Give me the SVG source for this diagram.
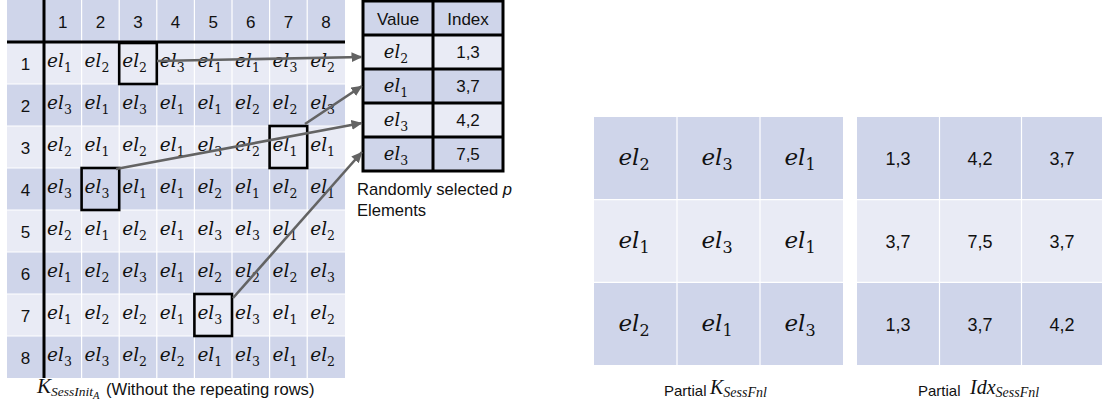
<svg xmlns="http://www.w3.org/2000/svg" width="1102" height="407" viewBox="0 0 1102 407">
  <defs>
    <style>
      .dark { fill: #cfd5ea; }
      .light { fill: #e9ebf5; }
      .grid { stroke: #ffffff; stroke-width: 1.2; fill: none; }
      .rule { stroke: #000000; stroke-width: 3; fill: none; }
      .pick { stroke: #000000; stroke-width: 2.6; fill: none; }
      .lbl { font-family: "Liberation Sans", Arial, sans-serif; fill: #111111; }
      .hd { font-size: 17px; text-anchor: middle; }
      .cap { font-size: 16.6px; }
      .cap2 { font-size: 15px; }
      .mi { font-family: "DejaVu Serif", "Liberation Serif", serif; font-style: italic; fill: #111111; }
      .mc { font-family: "Liberation Serif", "DejaVu Serif", serif; font-style: italic; fill: #111111; }
      .sub { font-family: "DejaVu Serif", "Liberation Serif", serif; font-style: normal; }
      .el { font-size: 18.5px; }
      .el .sub { font-size: 12.5px; }
      .elm { font-size: 18px; text-anchor: middle; }
      .elm .sub { font-size: 12.5px; }
      .elb { font-size: 23px; text-anchor: middle; }
      .elb .sub { font-size: 16px; }
      .num { font-size: 18px; text-anchor: middle; }
      .conn { stroke: #636363; stroke-width: 2.6; fill: none; marker-end: url(#head); }
    </style>
    <marker id="head" markerUnits="userSpaceOnUse" markerWidth="11" markerHeight="10" viewBox="0 0 11 10" refX="10.5" refY="5" orient="auto">
      <path d="M0,0 L11,5 L0,10 Z" fill="#636363"/>
    </marker>
  </defs>

  <!-- Session init key table, 8 x 8 -->
  <g id="k-sess-init">
    <rect class="dark" x="7" y="0" width="338" height="42"/>
    <rect class="light" x="7" y="42" width="338" height="42"/>
    <rect class="dark" x="7" y="84" width="338" height="42"/>
    <rect class="light" x="7" y="126" width="338" height="42"/>
    <rect class="dark" x="7" y="168" width="338" height="42"/>
    <rect class="light" x="7" y="210" width="338" height="42"/>
    <rect class="dark" x="7" y="252" width="338" height="42"/>
    <rect class="light" x="7" y="294" width="338" height="42"/>
    <rect class="dark" x="7" y="336" width="338" height="42"/>
    <path class="grid" d="M81.6,0V378 M119.2,0V378 M156.8,0V378 M194.4,0V378 M232,0V378 M269.6,0V378 M307.2,0V378 M7,84H345 M7,126H345 M7,168H345 M7,210H345 M7,252H345 M7,294H345 M7,336H345"/>
    <path class="rule" d="M44,0V378 M7,42H345"/>

    <g class="lbl hd">
      <text x="62.8" y="28">1</text><text x="100.4" y="28">2</text><text x="138" y="28">3</text><text x="175.6" y="28">4</text>
      <text x="213.2" y="28">5</text><text x="250.8" y="28">6</text><text x="288.4" y="28">7</text><text x="326" y="28">8</text>
      <text x="25.5" y="70">1</text><text x="25.5" y="112">2</text><text x="25.5" y="154">3</text><text x="25.5" y="196">4</text>
      <text x="25.5" y="238">5</text><text x="25.5" y="280">6</text><text x="25.5" y="322">7</text><text x="25.5" y="364">8</text>
    </g>

    <g class="mi el">
      <!-- row 1 -->
      <text x="47" y="67">el<tspan class="sub" dy="5">1</tspan></text>
      <text x="84.6" y="67">el<tspan class="sub" dy="5">2</tspan></text>
      <text x="122.2" y="67">el<tspan class="sub" dy="5">2</tspan></text>
      <text x="159.8" y="67">el<tspan class="sub" dy="5">3</tspan></text>
      <text x="197.4" y="67">el<tspan class="sub" dy="5">1</tspan></text>
      <text x="235" y="67">el<tspan class="sub" dy="5">1</tspan></text>
      <text x="272.6" y="67">el<tspan class="sub" dy="5">3</tspan></text>
      <text x="310.2" y="67">el<tspan class="sub" dy="5">2</tspan></text>
      <!-- row 2 -->
      <text x="47" y="109">el<tspan class="sub" dy="5">3</tspan></text>
      <text x="84.6" y="109">el<tspan class="sub" dy="5">1</tspan></text>
      <text x="122.2" y="109">el<tspan class="sub" dy="5">3</tspan></text>
      <text x="159.8" y="109">el<tspan class="sub" dy="5">1</tspan></text>
      <text x="197.4" y="109">el<tspan class="sub" dy="5">1</tspan></text>
      <text x="235" y="109">el<tspan class="sub" dy="5">2</tspan></text>
      <text x="272.6" y="109">el<tspan class="sub" dy="5">2</tspan></text>
      <text x="310.2" y="109">el<tspan class="sub" dy="5">3</tspan></text>
      <!-- row 3 -->
      <text x="47" y="151">el<tspan class="sub" dy="5">2</tspan></text>
      <text x="84.6" y="151">el<tspan class="sub" dy="5">1</tspan></text>
      <text x="122.2" y="151">el<tspan class="sub" dy="5">2</tspan></text>
      <text x="159.8" y="151">el<tspan class="sub" dy="5">1</tspan></text>
      <text x="197.4" y="151">el<tspan class="sub" dy="5">3</tspan></text>
      <text x="235" y="151">el<tspan class="sub" dy="5">2</tspan></text>
      <text x="272.6" y="151">el<tspan class="sub" dy="5">1</tspan></text>
      <text x="310.2" y="151">el<tspan class="sub" dy="5">1</tspan></text>
      <!-- row 4 -->
      <text x="47" y="193">el<tspan class="sub" dy="5">3</tspan></text>
      <text x="84.6" y="193">el<tspan class="sub" dy="5">3</tspan></text>
      <text x="122.2" y="193">el<tspan class="sub" dy="5">1</tspan></text>
      <text x="159.8" y="193">el<tspan class="sub" dy="5">1</tspan></text>
      <text x="197.4" y="193">el<tspan class="sub" dy="5">2</tspan></text>
      <text x="235" y="193">el<tspan class="sub" dy="5">1</tspan></text>
      <text x="272.6" y="193">el<tspan class="sub" dy="5">2</tspan></text>
      <text x="310.2" y="193">el<tspan class="sub" dy="5">1</tspan></text>
      <!-- row 5 -->
      <text x="47" y="235">el<tspan class="sub" dy="5">2</tspan></text>
      <text x="84.6" y="235">el<tspan class="sub" dy="5">1</tspan></text>
      <text x="122.2" y="235">el<tspan class="sub" dy="5">2</tspan></text>
      <text x="159.8" y="235">el<tspan class="sub" dy="5">1</tspan></text>
      <text x="197.4" y="235">el<tspan class="sub" dy="5">3</tspan></text>
      <text x="235" y="235">el<tspan class="sub" dy="5">3</tspan></text>
      <text x="272.6" y="235">el<tspan class="sub" dy="5">1</tspan></text>
      <text x="310.2" y="235">el<tspan class="sub" dy="5">2</tspan></text>
      <!-- row 6 -->
      <text x="47" y="277">el<tspan class="sub" dy="5">1</tspan></text>
      <text x="84.6" y="277">el<tspan class="sub" dy="5">2</tspan></text>
      <text x="122.2" y="277">el<tspan class="sub" dy="5">3</tspan></text>
      <text x="159.8" y="277">el<tspan class="sub" dy="5">1</tspan></text>
      <text x="197.4" y="277">el<tspan class="sub" dy="5">2</tspan></text>
      <text x="235" y="277">el<tspan class="sub" dy="5">2</tspan></text>
      <text x="272.6" y="277">el<tspan class="sub" dy="5">2</tspan></text>
      <text x="310.2" y="277">el<tspan class="sub" dy="5">3</tspan></text>
      <!-- row 7 -->
      <text x="47" y="319">el<tspan class="sub" dy="5">1</tspan></text>
      <text x="84.6" y="319">el<tspan class="sub" dy="5">2</tspan></text>
      <text x="122.2" y="319">el<tspan class="sub" dy="5">2</tspan></text>
      <text x="159.8" y="319">el<tspan class="sub" dy="5">1</tspan></text>
      <text x="197.4" y="319">el<tspan class="sub" dy="5">3</tspan></text>
      <text x="235" y="319">el<tspan class="sub" dy="5">3</tspan></text>
      <text x="272.6" y="319">el<tspan class="sub" dy="5">1</tspan></text>
      <text x="310.2" y="319">el<tspan class="sub" dy="5">2</tspan></text>
      <!-- row 8 -->
      <text x="47" y="361">el<tspan class="sub" dy="5">3</tspan></text>
      <text x="84.6" y="361">el<tspan class="sub" dy="5">3</tspan></text>
      <text x="122.2" y="361">el<tspan class="sub" dy="5">2</tspan></text>
      <text x="159.8" y="361">el<tspan class="sub" dy="5">2</tspan></text>
      <text x="197.4" y="361">el<tspan class="sub" dy="5">1</tspan></text>
      <text x="235" y="361">el<tspan class="sub" dy="5">3</tspan></text>
      <text x="272.6" y="361">el<tspan class="sub" dy="5">1</tspan></text>
      <text x="310.2" y="361">el<tspan class="sub" dy="5">2</tspan></text>
    </g>

    <!-- picked cells -->
    <rect class="pick" x="119.2" y="43" width="37.6" height="41"/>
    <rect class="pick" x="269.6" y="126" width="37.6" height="42"/>
    <rect class="pick" x="81.6" y="168" width="37.6" height="42"/>
    <rect class="pick" x="194.4" y="294" width="37.6" height="42"/>

    <text class="mc" x="37" y="393" font-size="21">K<tspan font-size="13.5" dy="3">SessInit</tspan><tspan font-size="10.5" dy="3">A</tspan></text>
    <text class="lbl cap" x="106" y="395">(Without the repeating rows)</text>
  </g>

  <!-- Selected elements table -->
  <g id="selected">
    <rect class="dark" x="363" y="1" width="140" height="34"/>
    <rect class="light" x="363" y="35" width="140" height="34"/>
    <rect class="dark" x="363" y="69" width="140" height="34"/>
    <rect class="light" x="363" y="103" width="140" height="34"/>
    <rect class="dark" x="363" y="137" width="140" height="34"/>
    <path class="rule" d="M363,1H503V171H363Z M433,1V171 M363,35H503 M363,69H503 M363,103H503 M363,137H503"/>
    <text class="lbl hd" x="398" y="25">Value</text>
    <text class="lbl hd" x="468" y="25">Index</text>
    <text class="mi elm" x="396" y="58">el<tspan class="sub" dy="5">2</tspan></text>
    <text class="mi elm" x="396" y="92">el<tspan class="sub" dy="5">1</tspan></text>
    <text class="mi elm" x="396" y="126">el<tspan class="sub" dy="5">3</tspan></text>
    <text class="mi elm" x="396" y="160">el<tspan class="sub" dy="5">3</tspan></text>
    <text class="lbl hd" x="468" y="58">1,3</text>
    <text class="lbl hd" x="468" y="92">3,7</text>
    <text class="lbl hd" x="468" y="126">4,2</text>
    <text class="lbl hd" x="468" y="160">7,5</text>
    <text class="lbl cap" x="357" y="195">Randomly selected <tspan font-style="italic">p</tspan></text>
    <text class="lbl cap" x="357" y="216">Elements</text>
  </g>

  <!-- Connectors from picked cells to the selection table -->
  <g id="connectors">
    <line class="conn" x1="157" y1="61" x2="362" y2="57"/>
    <line class="conn" x1="305" y1="124" x2="362" y2="86"/>
    <line class="conn" x1="116" y1="169" x2="362" y2="123"/>
    <line class="conn" x1="233" y1="298" x2="362" y2="152"/>
  </g>

  <!-- Partial final key, 3 x 3 -->
  <g id="k-sess-fnl">
    <rect class="dark" x="594" y="117" width="249" height="82.7"/>
    <rect class="light" x="594" y="199.7" width="249" height="82.6"/>
    <rect class="dark" x="594" y="282.3" width="249" height="82.7"/>
    <path class="grid" d="M677,117V365 M760,117V365 M594,199.7H843 M594,282.3H843"/>
    <g class="mi elb">
      <text x="634" y="165">el<tspan class="sub" dy="5">2</tspan></text>
      <text x="717" y="165">el<tspan class="sub" dy="5">3</tspan></text>
      <text x="800" y="165">el<tspan class="sub" dy="5">1</tspan></text>
      <text x="634" y="248">el<tspan class="sub" dy="5">1</tspan></text>
      <text x="717" y="248">el<tspan class="sub" dy="5">3</tspan></text>
      <text x="800" y="248">el<tspan class="sub" dy="5">1</tspan></text>
      <text x="634" y="331">el<tspan class="sub" dy="5">2</tspan></text>
      <text x="717" y="331">el<tspan class="sub" dy="5">1</tspan></text>
      <text x="800" y="331">el<tspan class="sub" dy="5">3</tspan></text>
    </g>
    <text class="lbl cap2" x="664" y="396">Partial</text>
    <text class="mc" x="710" y="394" font-size="20">K<tspan font-size="14" dy="3">SessFnl</tspan></text>
  </g>

  <!-- Partial final index table, 3 x 3 -->
  <g id="idx-sess-fnl">
    <rect class="dark" x="857" y="117" width="245" height="82.7"/>
    <rect class="light" x="857" y="199.7" width="245" height="82.6"/>
    <rect class="dark" x="857" y="282.3" width="245" height="82.7"/>
    <path class="grid" d="M939.5,117V365 M1021.5,117V365 M857,199.7H1102 M857,282.3H1102"/>
    <g class="lbl num">
      <text x="898" y="165">1,3</text><text x="980" y="165">4,2</text><text x="1062" y="165">3,7</text>
      <text x="898" y="248">3,7</text><text x="980" y="248">7,5</text><text x="1062" y="248">3,7</text>
      <text x="898" y="331">1,3</text><text x="980" y="331">3,7</text><text x="1062" y="331">4,2</text>
    </g>
    <text class="lbl cap2" x="918" y="396">Partial</text>
    <text class="mc" x="970" y="394" font-size="20">Idx<tspan font-size="14" dy="3">SessFnl</tspan></text>
  </g>
</svg>
